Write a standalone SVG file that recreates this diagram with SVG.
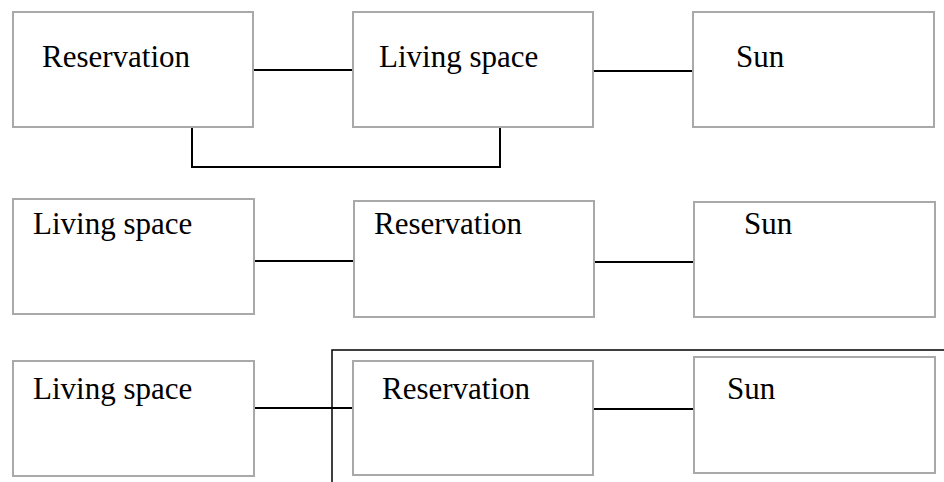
<svg xmlns="http://www.w3.org/2000/svg" width="944" height="482" viewBox="0 0 944 482">
<style>
.box{fill:#fff;stroke:#a9a9a9;stroke-width:2}
.lbl{font-family:"Liberation Serif","Times New Roman",serif;font-size:31px;fill:#000}
.con{stroke:#000;stroke-width:2;fill:none}
.thin{stroke:#000;stroke-width:1.5;fill:none}
</style>
<rect width="944" height="482" fill="#fff"/>
<g id="connectors">
<line class="con" x1="253" y1="70" x2="353" y2="70"/>
<line class="con" x1="593" y1="71" x2="693" y2="71"/>
<polyline class="con" points="192,127 192,167 500,167 500,127"/>
<line class="con" x1="254" y1="261" x2="354" y2="261"/>
<line class="con" x1="594" y1="262" x2="694" y2="262"/>
<line class="con" x1="254" y1="408" x2="355" y2="408"/>
<line class="con" x1="593" y1="409" x2="694" y2="409"/>
<polyline class="thin" points="332,482 332,350 944,350"/>
</g>
<g id="n1"><rect class="box" x="13" y="12" width="240" height="115"/><text class="lbl" x="42" y="67">Reservation</text></g>
<g id="n2"><rect class="box" x="353" y="12" width="240" height="115"/><text class="lbl" x="379" y="67">Living space</text></g>
<g id="n3"><rect class="box" x="693" y="12" width="241" height="115"/><text class="lbl" x="736" y="67">Sun</text></g>
<g id="n4"><rect class="box" x="13" y="199" width="241" height="115"/><text class="lbl" x="33" y="234">Living space</text></g>
<g id="n5"><rect class="box" x="354" y="201" width="240" height="116"/><text class="lbl" x="374" y="234">Reservation</text></g>
<g id="n6"><rect class="box" x="694" y="202" width="241" height="115"/><text class="lbl" x="744" y="234">Sun</text></g>
<g id="n7"><rect class="box" x="13" y="361" width="241" height="115"/><text class="lbl" x="33" y="399">Living space</text></g>
<g id="n8"><rect class="box" x="353" y="361" width="240" height="114"/><text class="lbl" x="382" y="399">Reservation</text></g>
<g id="n9"><rect class="box" x="694" y="357" width="241" height="116"/><text class="lbl" x="727" y="399">Sun</text></g>
</svg>
